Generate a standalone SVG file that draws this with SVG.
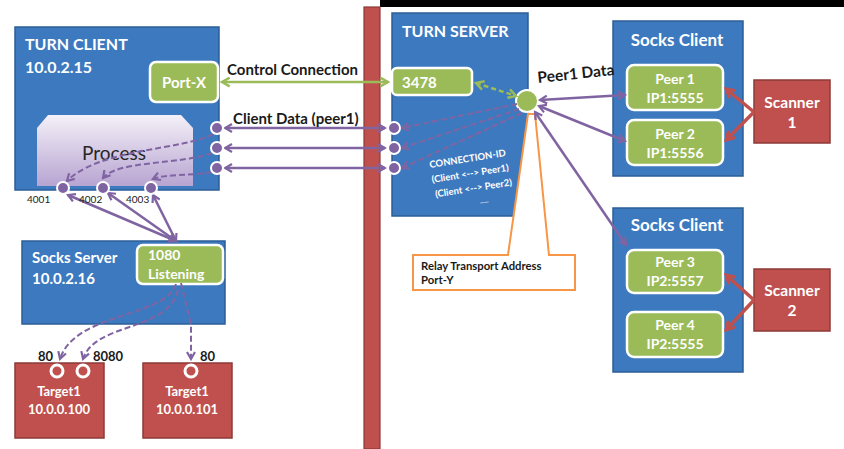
<svg xmlns="http://www.w3.org/2000/svg" width="844" height="449" viewBox="0 0 844 449">
  <style>
    text { font-family: Lato, "Open Sans", "Liberation Sans", sans-serif; }
    .blue { fill: #3D79BF; stroke: #2C5E96; stroke-width: 1.5; }
    .green { fill: #9BBB59; stroke: #FFFFFF; stroke-width: 2.5; }
    .red { fill: #C0504D; stroke: #8C3A37; stroke-width: 1.5; }
    .wt { fill: #FFFFFF; font-weight: bold; }
    .bk { fill: #1A1A1A; font-weight: bold; }
    .dot { fill: #8064A2; stroke: #FFFFFF; stroke-width: 2; }
    .ring { fill: #C0504D; stroke: #FFFFFF; stroke-width: 3; }
    .pl { stroke: #8064A2; stroke-width: 2.5; fill: none; }
    .pd { stroke: #8064A2; stroke-width: 2; fill: none; stroke-dasharray: 6 3; }
    .gl { stroke: #9BBB59; stroke-width: 2.5; fill: none; }
    .gd { stroke: #9BBB59; stroke-width: 2.5; fill: none; stroke-dasharray: 5 3; }
    .rl { stroke: #C0504D; stroke-width: 3.5; fill: none; }
  </style>
  <defs>
    <marker id="ap" viewBox="0 0 10 10" refX="8" refY="5" markerWidth="10" markerHeight="10" markerUnits="userSpaceOnUse" orient="auto-start-reverse">
      <path d="M1,1 L8,5 L1,9" fill="none" stroke="#8064A2" stroke-width="2.2"/>
    </marker>
    <marker id="ag" viewBox="0 0 10 10" refX="8" refY="5" markerWidth="11" markerHeight="11" markerUnits="userSpaceOnUse" orient="auto-start-reverse">
      <path d="M1,1 L8,5 L1,9" fill="none" stroke="#9BBB59" stroke-width="2.2"/>
    </marker>
    <marker id="ar" viewBox="0 0 10 10" refX="8" refY="5" markerWidth="12" markerHeight="12" markerUnits="userSpaceOnUse" orient="auto-start-reverse">
      <path d="M1,1 L8,5 L1,9" fill="none" stroke="#C0504D" stroke-width="2.5"/>
    </marker>
    <linearGradient id="procFill" x1="0" y1="0" x2="0" y2="1">
      <stop offset="0" stop-color="#F4F0F8"/>
      <stop offset="1" stop-color="#B7A4D1"/>
    </linearGradient>
  </defs>

  <rect width="844" height="449" fill="#FFFFFF"/>
  <rect x="380" y="0" width="464" height="7" fill="#000000"/>

  <!-- network boundary -->
  <g id="boundary">
    <rect x="364" y="7" width="16" height="442" fill="#C0504D" stroke="#8C3A37" stroke-width="1.2"/>
  </g>

  <g id="turn-client">
    <rect class="blue" x="15" y="27" width="204" height="163"/>
    <text class="wt" x="25" y="50" font-size="16">TURN CLIENT</text>
    <text class="wt" x="25" y="73" font-size="16">10.0.2.15</text>
  </g>
  <g id="port-x">
    <rect class="green" x="150" y="62" width="68" height="40" rx="6"/>
    <text class="wt" x="184" y="88" font-size="15" text-anchor="middle">Port-X</text>
  </g>
  <g id="process">
    <path d="M37,128 L48,115 L181,115 L193,128 L193,186 L37,186 Z" fill="url(#procFill)"/>
    <text x="114" y="160" font-size="19" fill="#262626" text-anchor="middle">Process</text>
  </g>

  <g id="socks-server">
    <rect class="blue" x="22" y="241" width="203" height="83"/>
    <text class="wt" x="32" y="263" font-size="15">Socks Server</text>
    <text class="wt" x="32" y="284" font-size="15">10.0.2.16</text>
  </g>
  <g id="listen-1080">
    <rect class="green" x="137" y="245" width="86" height="39" rx="6"/>
    <text class="wt" x="148" y="260" font-size="14">1080</text>
    <text class="wt" x="148" y="279" font-size="14">Listening</text>
  </g>

  <g id="target-100">
    <rect class="red" x="15" y="363" width="89" height="75"/>
    <circle class="ring" cx="57" cy="371" r="6"/>
    <circle class="ring" cx="83" cy="371" r="6"/>
    <text class="wt" x="59" y="396" font-size="13" text-anchor="middle">Target1</text>
    <text class="wt" x="59" y="414" font-size="13" text-anchor="middle">10.0.0.100</text>
  </g>
  <g id="target-101">
    <rect class="red" x="143" y="363" width="89" height="75"/>
    <circle class="ring" cx="191" cy="371" r="6"/>
    <text class="wt" x="187" y="396" font-size="13" text-anchor="middle">Target1</text>
    <text class="wt" x="187" y="414" font-size="13" text-anchor="middle">10.0.0.101</text>
  </g>

  <g id="turn-server">
    <rect class="blue" x="392" y="13" width="136" height="203"/>
    <text class="wt" x="402" y="37" font-size="16">TURN SERVER</text>
    <g transform="rotate(-9 430 168)" class="wt" font-size="9.5" font-weight="normal">
      <text x="430" y="168">CONNECTION-ID</text>
      <text x="430" y="183">(Client &lt;--&gt; Peer1)</text>
      <text x="431" y="198">(Client &lt;--&gt; Peer2)</text>
      <text x="474" y="211" font-size="6">......</text>
    </g>
  </g>
  <g id="port-3478">
    <rect class="green" x="392" y="68" width="80" height="27" rx="5"/>
    <text class="wt" x="402" y="88" font-size="15">3478</text>
  </g>

  <g id="relay-callout">
    <path d="M413,255 L508,255 L528,114 L535,114 L549,255 L575,255 L575,290 L413,290 Z" fill="#FFFFFF" stroke="#F79646" stroke-width="2"/>
    <text class="bk" x="421" y="270" font-size="11.3">Relay Transport Address</text>
    <text class="bk" x="421" y="284" font-size="11.3">Port-Y</text>
  </g>

  <g id="relay-point">
    <circle cx="527" cy="101" r="11" fill="#9BBB59" stroke="#FFFFFF" stroke-width="2"/>
  </g>

  <g id="socks-client-1">
    <rect class="blue" x="613" y="21" width="130" height="155"/>
    <text class="wt" x="677" y="46" font-size="17" text-anchor="middle">Socks Client</text>
  </g>
  <g id="peer-1">
    <rect class="green" x="627" y="65" width="96" height="45" rx="7"/>
    <text class="wt" x="675" y="84" font-size="14" text-anchor="middle">Peer 1</text>
    <text class="wt" x="675" y="103" font-size="14" text-anchor="middle">IP1:5555</text>
  </g>
  <g id="peer-2">
    <rect class="green" x="627" y="120" width="96" height="45" rx="7"/>
    <text class="wt" x="675" y="139" font-size="14" text-anchor="middle">Peer 2</text>
    <text class="wt" x="675" y="158" font-size="14" text-anchor="middle">IP1:5556</text>
  </g>
  <g id="scanner-1">
    <rect class="red" x="754" y="80" width="76" height="63"/>
    <text class="wt" x="792" y="108" font-size="15.5" text-anchor="middle">Scanner</text>
    <text class="wt" x="792" y="128" font-size="15.5" text-anchor="middle">1</text>
  </g>

  <g id="socks-client-2">
    <rect class="blue" x="613" y="208" width="130" height="164"/>
    <text class="wt" x="677" y="231" font-size="17" text-anchor="middle">Socks Client</text>
  </g>
  <g id="peer-3">
    <rect class="green" x="627" y="250" width="96" height="43" rx="7"/>
    <text class="wt" x="675" y="267" font-size="14" text-anchor="middle">Peer 3</text>
    <text class="wt" x="675" y="286" font-size="14" text-anchor="middle">IP2:5557</text>
  </g>
  <g id="peer-4">
    <rect class="green" x="627" y="312" width="96" height="45" rx="7"/>
    <text class="wt" x="675" y="330" font-size="14" text-anchor="middle">Peer 4</text>
    <text class="wt" x="675" y="349" font-size="14" text-anchor="middle">IP2:5555</text>
  </g>
  <g id="scanner-2">
    <rect class="red" x="754" y="269" width="76" height="62"/>
    <text class="wt" x="792" y="296" font-size="15.5" text-anchor="middle">Scanner</text>
    <text class="wt" x="792" y="316" font-size="15.5" text-anchor="middle">2</text>
  </g>

  <g id="connectors">
    <!-- control channel -->
    <line class="gl" x1="222" y1="82" x2="388" y2="82" marker-start="url(#ag)" marker-end="url(#ag)"/>
    <path class="gd" d="M476,83 L516,96" marker-start="url(#ag)" marker-end="url(#ag)"/>
    <!-- client data channels -->
    <line class="pl" x1="225" y1="128" x2="385" y2="128" marker-start="url(#ap)" marker-end="url(#ap)"/>
    <line class="pl" x1="225" y1="148" x2="385" y2="148" marker-start="url(#ap)" marker-end="url(#ap)"/>
    <line class="pl" x1="225" y1="168" x2="385" y2="168" marker-start="url(#ap)" marker-end="url(#ap)"/>
    <!-- relay to data connections -->
    <path class="pd" d="M517,104 L402,128" marker-end="url(#ap)"/>
    <path class="pd" d="M519,109 L402,148" marker-end="url(#ap)"/>
    <path class="pd" d="M522,113 L402,168" marker-end="url(#ap)"/>
    <!-- process internal routing -->
    <path class="pd" d="M213,134 C185,150 100,148 67,181" marker-end="url(#ap)"/>
    <path class="pd" d="M212,153 C180,165 118,160 103,178" marker-end="url(#ap)"/>
    <path class="pd" d="M212,172 C190,176 165,174 153,179" marker-end="url(#ap)"/>
    <!-- local ports to socks listener -->
    <line class="pl" x1="176" y1="241" x2="68" y2="195" marker-start="url(#ap)" marker-end="url(#ap)"/>
    <line class="pl" x1="176" y1="241" x2="108" y2="193" marker-start="url(#ap)" marker-end="url(#ap)"/>
    <line class="pl" x1="176" y1="241" x2="153" y2="195" marker-start="url(#ap)" marker-end="url(#ap)"/>
    <!-- socks listener to targets -->
    <path class="pd" d="M176,284 C165,318 75,312 60,359" marker-end="url(#ap)"/>
    <path class="pd" d="M178,290 C168,332 95,322 83,359" marker-end="url(#ap)"/>
    <path class="pd" d="M181,283 L191,325 L191,359" marker-end="url(#ap)"/>
    <!-- relay to peers -->
    <line class="pl" x1="540" y1="100" x2="625" y2="95" marker-start="url(#ap)" marker-end="url(#ap)"/>
    <line class="pl" x1="539" y1="106" x2="625" y2="141" marker-start="url(#ap)" marker-end="url(#ap)"/>
    <line class="pl" x1="535" y1="112" x2="626" y2="245" marker-start="url(#ap)" marker-end="url(#ap)"/>
    <!-- scanners to peers -->
    <line class="rl" x1="754" y1="112" x2="726" y2="89" marker-end="url(#ar)"/>
    <line class="rl" x1="754" y1="112" x2="726" y2="140" marker-end="url(#ar)"/>
    <line class="rl" x1="754" y1="300" x2="726" y2="275" marker-end="url(#ar)"/>
    <line class="rl" x1="754" y1="300" x2="726" y2="330" marker-end="url(#ar)"/>
  </g>

  <g id="ports">
    <circle class="dot" cx="217" cy="128" r="6"/>
    <circle class="dot" cx="217" cy="148" r="6"/>
    <circle class="dot" cx="217" cy="168" r="6"/>
    <circle class="dot" cx="394" cy="128" r="6"/>
    <circle class="dot" cx="394" cy="148" r="6"/>
    <circle class="dot" cx="394" cy="168" r="6"/>
    <circle class="dot" cx="63" cy="188" r="6"/>
    <circle class="dot" cx="103" cy="188" r="6"/>
    <circle class="dot" cx="151" cy="188" r="6"/>
  </g>

  <g id="labels">
    <text class="bk" x="227" y="75" font-size="15">Control Connection</text>
    <text class="bk" x="233" y="124" font-size="15">Client Data (peer1)</text>
    <text class="bk" x="538" y="83" font-size="15.5" transform="rotate(-6 538 83)">Peer1 Data</text>
    <text x="27" y="203" font-size="10" fill="#1A1A1A">4001</text>
    <text x="79" y="203" font-size="10" fill="#1A1A1A">4002</text>
    <text x="126" y="203" font-size="10" fill="#1A1A1A">4003</text>
    <text class="bk" x="38" y="361" font-size="13">80</text>
    <text class="bk" x="93" y="361" font-size="13">8080</text>
    <text class="bk" x="200" y="361" font-size="13">80</text>
  </g>
</svg>
